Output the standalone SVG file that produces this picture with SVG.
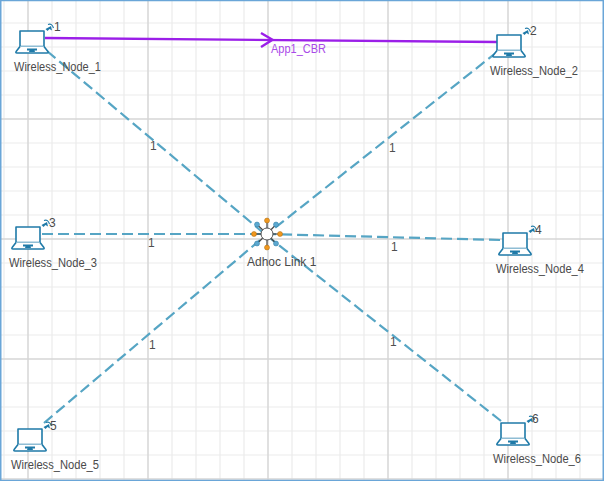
<svg xmlns="http://www.w3.org/2000/svg" width="604" height="481" viewBox="0 0 604 481">
<style>
.mn{stroke:#ebebeb;stroke-width:1.2;fill:none}
.mj{stroke:#d6d6d6;stroke-width:1.5;fill:none}
.lk{stroke:#56a5c4;stroke-width:2.2;stroke-dasharray:11 5;fill:none}
.t{font-family:"Liberation Sans",Arial,sans-serif;font-size:12px;fill:#4f4f4f}
.n{font-family:"Liberation Sans",Arial,sans-serif;font-size:12px;fill:#4a4a4a}
.ic{fill:#fff;stroke:#1f7aa8;stroke-width:1.6;stroke-linejoin:round}
.pk{fill:#1f7aa8}
</style>
<defs>
<g id="laptop">
<path class="ic" d="M-9-12H15V3.500H-9Z"/>
<path class="ic" d="M-9 3.500L-12.500 8Q-14 10-12 10H18Q20 10 18.500 8L15 3.500"/>
<path class="pk" d="M-2 5.500H8V7.500H5.500L6 9H0L.5 7.500H-2Z"/>
<path class="pk" d="M16.500-14L22-17L23-12.500L20.500-14L18.500-12Z"/>
<path d="M19-18.500Q23-20 24.500-15" fill="none" stroke="#1f7aa8" stroke-width="1.100"/>
</g>
</defs>
<rect width="604" height="481" fill="#fff"/>
<g id="grid">
<path class="mn" d="M4 0V481M52 0V481M76 0V481M100 0V481M124 0V481M172 0V481M196 0V481M220 0V481M244 0V481M292 0V481M316 0V481M340 0V481M364 0V481M412 0V481M436 0V481M460 0V481M484 0V481M532 0V481M556 0V481M580 0V481"/>
<path class="mn" d="M0 23H604M0 47H604M0 71H604M0 95H604M0 143H604M0 167H604M0 191H604M0 215H604M0 263H604M0 287H604M0 311H604M0 335H604M0 383H604M0 407H604M0 431H604M0 455H604"/>
<path class="mj" d="M28 0V481M148 0V481M268 0V481M388 0V481M508 0V481M0 119H604M0 239H604M0 359H604M0 479H604"/>
</g>
<rect x="0.750" y="0.500" width="602.500" height="480" fill="none" stroke="#6aa6d8" stroke-width="1.500"/>
<g id="connectors">
<line class="lk" x1="47" y1="51" x2="266" y2="235"/>
<line class="lk" x1="497" y1="52" x2="266" y2="235"/>
<line class="lk" x1="42" y1="234" x2="266" y2="234"/>
<line class="lk" x1="500" y1="240" x2="266" y2="234"/>
<line class="lk" x1="44" y1="423" x2="266" y2="235"/>
<line class="lk" x1="501" y1="421" x2="266" y2="235"/>
<path d="M45 38L497 42" fill="none" stroke="#9b1fe8" stroke-width="2.400"/>
<path d="M261 33L272.500 39.800L261 47" fill="none" stroke="#9b1fe8" stroke-width="2.400"/>
<g class="t">
<text x="150" y="150">1</text><text x="389" y="152">1</text><text x="148" y="247">1</text><text x="391" y="251">1</text><text x="149" y="349">1</text><text x="390" y="346">1</text>
</g>
<text x="271" y="53" textLength="55" lengthAdjust="spacingAndGlyphs" font-family="'Liberation Sans',Arial,sans-serif" font-size="12px" fill="#a94ae8">App1_CBR</text>
</g>
<g id="Wireless_Node_1"><use href="#laptop" x="29" y="43"/><text class="n" x="54" y="31">1</text><text class="n" x="14" y="71" textLength="87" lengthAdjust="spacingAndGlyphs">Wireless_Node_1</text></g>
<g id="Wireless_Node_2"><use href="#laptop" x="506" y="47"/><text class="n" x="530" y="35">2</text><text class="n" x="490" y="75" textLength="88" lengthAdjust="spacingAndGlyphs">Wireless_Node_2</text></g>
<g id="Wireless_Node_3"><use href="#laptop" x="25" y="239"/><text class="n" x="49" y="227">3</text><text class="n" x="9" y="267" textLength="88" lengthAdjust="spacingAndGlyphs">Wireless_Node_3</text></g>
<g id="Wireless_Node_4"><use href="#laptop" x="512" y="245"/><text class="n" x="535" y="234">4</text><text class="n" x="496" y="273" textLength="88" lengthAdjust="spacingAndGlyphs">Wireless_Node_4</text></g>
<g id="Wireless_Node_5"><use href="#laptop" x="27" y="441"/><text class="n" x="50" y="430">5</text><text class="n" x="11" y="469" textLength="88" lengthAdjust="spacingAndGlyphs">Wireless_Node_5</text></g>
<g id="Wireless_Node_6"><use href="#laptop" x="510" y="435"/><text class="n" x="532" y="423">6</text><text class="n" x="493" y="463" textLength="88" lengthAdjust="spacingAndGlyphs">Wireless_Node_6</text></g>
<g id="Adhoc_Link_1">
<g stroke="#444" stroke-width="1.200">
<line x1="267" y1="234" x2="267" y2="220"/><line x1="267" y1="234" x2="267" y2="248"/><line x1="267" y1="234" x2="253" y2="234"/><line x1="267" y1="234" x2="281" y2="234"/>
<line x1="267" y1="234" x2="257" y2="224.500"/><line x1="267" y1="234" x2="276" y2="224.500"/><line x1="267" y1="234" x2="257" y2="243.500"/><line x1="267" y1="234" x2="276" y2="243.500"/>
</g>
<circle cx="267" cy="234" r="6" fill="#fff" stroke="#555" stroke-width="1"/>
<g fill="#f0971e" stroke="#a86a10" stroke-width=".5"><circle cx="267" cy="220.500" r="2.500"/><circle cx="267" cy="247.500" r="2.500"/><circle cx="254" cy="234" r="2.500"/><circle cx="280" cy="234" r="2.500"/></g>
<g fill="#5ba8d0" stroke="#2b79a0" stroke-width=".5"><circle cx="257" cy="224.500" r="2.500"/><circle cx="276" cy="224.500" r="2.500"/><circle cx="257" cy="243.500" r="2.500"/><circle cx="276" cy="243.500" r="2.500"/></g>
<text class="n" x="247" y="266">Adhoc Link 1</text>
</g>
</svg>
